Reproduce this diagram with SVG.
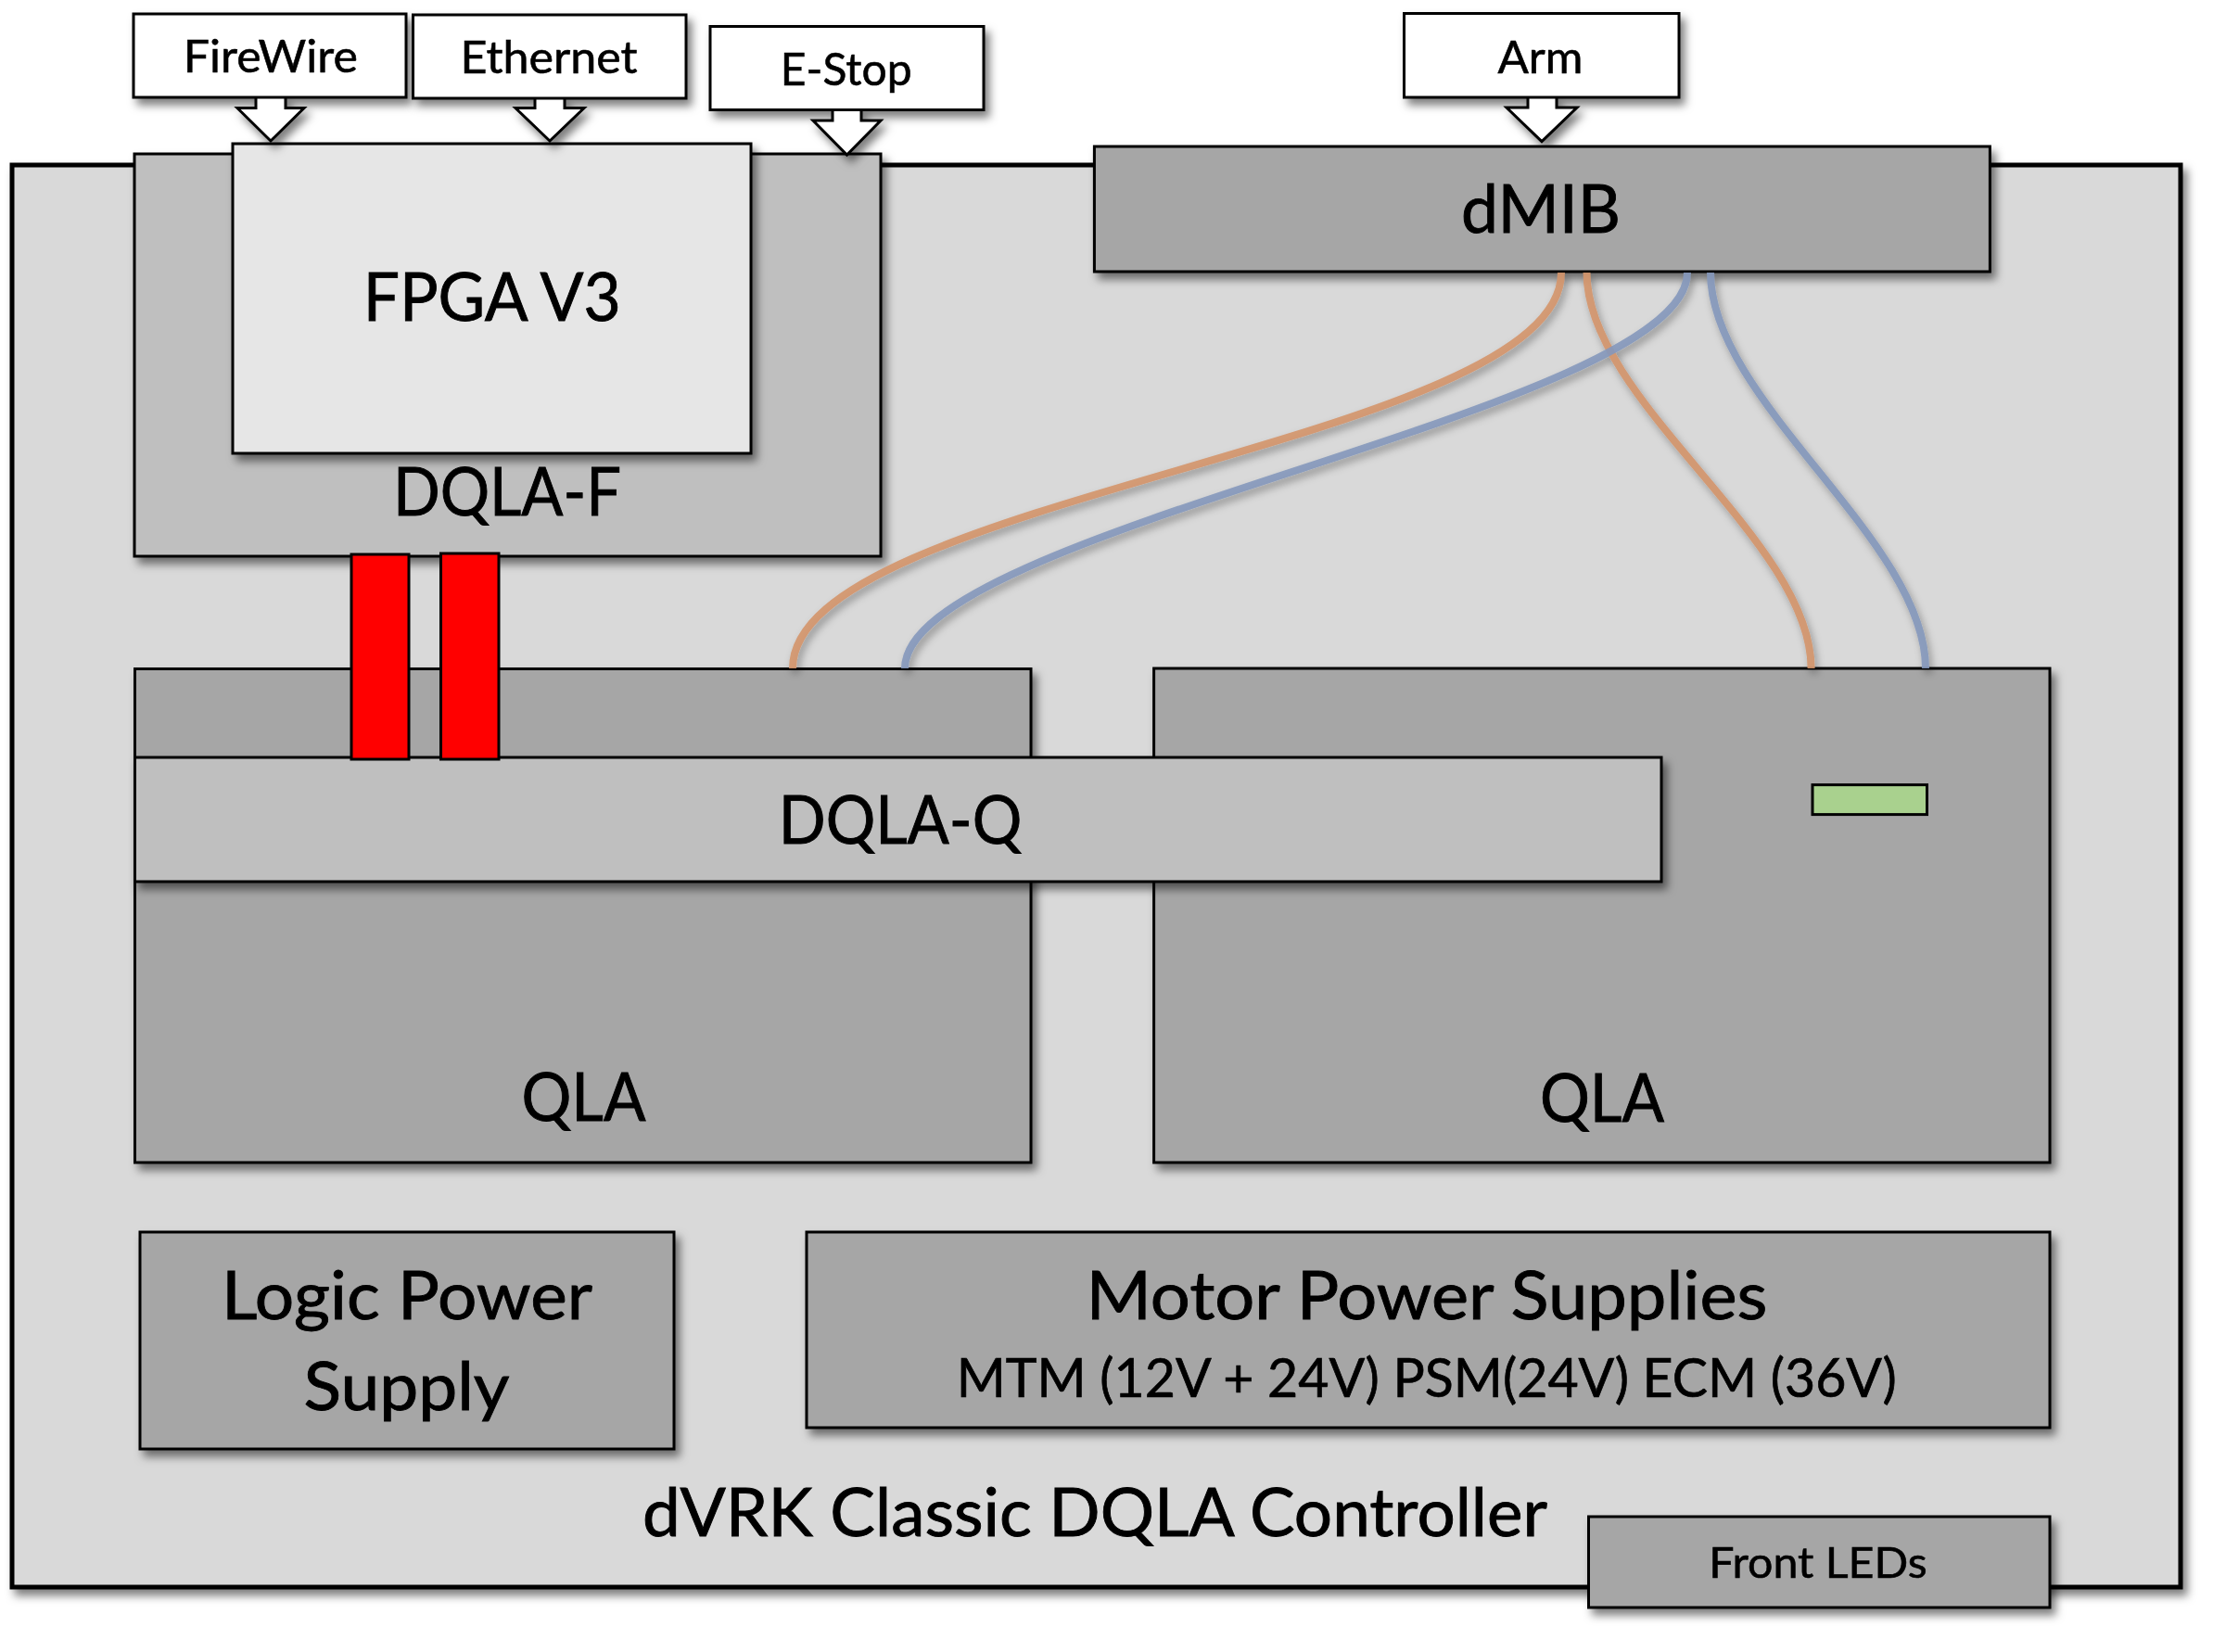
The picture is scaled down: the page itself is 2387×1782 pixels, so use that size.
<svg xmlns="http://www.w3.org/2000/svg" width="2387" height="1782" viewBox="0 0 2387 1782">
<defs>
<filter id="sh" x="-10%" y="-10%" width="125%" height="130%">
<feDropShadow dx="5" dy="7" stdDeviation="5" flood-color="#000" flood-opacity="0.5"/>
</filter>
<filter id="shc" filterUnits="userSpaceOnUse" x="0" y="0" width="2387" height="1782">
<feDropShadow dx="3" dy="5" stdDeviation="4" flood-color="#000" flood-opacity="0.35"/>
</filter>
<style>
.bx{stroke:#000;stroke-width:3}
.lt{fill:#d9d9d9}
.md{fill:#bfbfbf}
.dk{fill:#a6a6a6}
.wh{fill:#fff}
.tx{font-family:Lato,"Open Sans",sans-serif;fill:#000;text-anchor:middle;stroke:#000;stroke-width:0.9}
.big{font-size:72px}
.sm{font-size:48px;stroke-width:0.6}
.cab{fill:none;stroke-width:8;opacity:0.9}
.or{stroke:#d4956c}
.bl{stroke:#8598bb}
</style>
</defs>
<rect width="2387" height="1782" fill="#fff"/>
<g id="controller" filter="url(#sh)">
<rect class="lt" x="13" y="178" width="2339" height="1534" stroke="#000" stroke-width="5"/>
</g>
<text class="tx big" x="1181" y="1656.7" textLength="976" lengthAdjust="spacingAndGlyphs">dVRK Classic DQLA Controller</text>

<g id="dqla-f" filter="url(#sh)">
<rect class="bx md" x="145" y="166" width="805" height="434"/>
</g>
<text class="tx big" x="547" y="555.5" textLength="246" lengthAdjust="spacingAndGlyphs">DQLA-F</text>

<g id="fpga" filter="url(#sh)">
<rect class="bx" fill="#e6e6e6" x="251" y="155" width="559" height="334"/>
<text class="tx big" x="530.7" y="346" textLength="278" lengthAdjust="spacingAndGlyphs">FPGA V3</text>
</g>

<g id="firewire" filter="url(#sh)">
<path class="bx wh" d="M276,104 V116.6 H256 L292,152 L328,116.6 H308 V104"/>
<rect class="bx wh" x="144" y="15" width="294" height="90"/>
<text class="tx sm" x="291.8" y="78.3" textLength="188" lengthAdjust="spacingAndGlyphs">FireWire</text>
</g>
<g id="ethernet" filter="url(#sh)">
<path class="bx wh" d="M577,105 V116.6 H556 L593,152 L630,116.6 H609 V105"/>
<rect class="bx wh" x="445.5" y="16" width="294.5" height="90"/>
<text class="tx sm" x="592" y="79" textLength="191" lengthAdjust="spacingAndGlyphs">Ethernet</text>
</g>
<g id="estop" filter="url(#sh)">
<path class="bx wh" d="M898,118 V130 H877 L913.5,167 L950,130 H929 V118"/>
<rect class="bx wh" x="766" y="28.5" width="295" height="90"/>
<text class="tx sm" x="912.7" y="92.1" textLength="141.7" lengthAdjust="spacingAndGlyphs">E-Stop</text>
</g>
<g id="arm" filter="url(#sh)">
<path class="bx wh" d="M1648,104 V116 H1625 L1663,152.7 L1701,116 H1679 V104"/>
<rect class="bx wh" x="1514.5" y="14.5" width="296.5" height="90.5"/>
<text class="tx sm" x="1661.5" y="78.5" textLength="92" lengthAdjust="spacingAndGlyphs">Arm</text>
</g>

<g id="qla-left" filter="url(#sh)">
<rect class="bx dk" x="145.5" y="721.5" width="966.5" height="532.5"/>
</g>
<text class="tx big" x="629.5" y="1209.4" textLength="134" lengthAdjust="spacingAndGlyphs">QLA</text>
<g id="qla-right" filter="url(#sh)">
<rect class="bx dk" x="1244.6" y="721" width="966.4" height="533"/>
</g>
<text class="tx big" x="1728" y="1210" textLength="134" lengthAdjust="spacingAndGlyphs">QLA</text>

<g id="dmib" filter="url(#sh)">
<rect class="bx dk" x="1180.4" y="158" width="966" height="135"/>
<text class="tx big" x="1662" y="251" textLength="172" lengthAdjust="spacingAndGlyphs">dMIB</text>
</g>

<g id="connectors" filter="url(#shc)">
<path class="cab or" d="M1684,294 C1684,479 855,536 855,721"/>
<path class="cab or" d="M1711.5,294 C1711.5,433 1953.6,582 1953.6,721"/>
<path class="cab bl" d="M1820,294 C1820,444 976,571 976,721"/>
<path class="cab bl" d="M1845,294 C1845,433 2077,582 2077,721"/>
</g>

<g id="dqla-q" filter="url(#sh)">
<rect class="bx md" x="145.5" y="817" width="1646.5" height="134"/>
</g>
<text class="tx big" x="971" y="910.3" textLength="262.5" lengthAdjust="spacingAndGlyphs">DQLA-Q</text>

<g id="cable-1">
<rect class="bx" fill="#ff0000" x="379" y="598" width="62" height="221"/>
</g>
<g id="cable-2">
<rect class="bx" fill="#ff0000" x="475.5" y="597" width="62.5" height="222"/>
</g>

<g id="led">
<rect class="bx" fill="#a9d18e" x="1955" y="846.6" width="123.5" height="32"/>
</g>

<g id="logic-power" filter="url(#sh)">
<rect class="bx dk" x="151" y="1329" width="576" height="234"/>
<text class="tx big" x="439" y="1422.7" textLength="400" lengthAdjust="spacingAndGlyphs">Logic Power</text>
<text class="tx big" x="438.5" y="1520.7" textLength="222" lengthAdjust="spacingAndGlyphs">Supply</text>
</g>

<g id="motor-power" filter="url(#sh)">
<rect class="bx dk" x="870" y="1329" width="1341" height="211"/>
<text class="tx big" x="1539" y="1423.3" textLength="735" lengthAdjust="spacingAndGlyphs">Motor Power Supplies</text>
<text class="tx" style="font-size:58.5px;stroke-width:0.7" x="1538.7" y="1506.7" textLength="1014" lengthAdjust="spacingAndGlyphs">MTM (12V + 24V) PSM(24V) ECM (36V)</text>
</g>

<g id="front-leds" filter="url(#sh)">
<rect class="bx dk" x="1713.5" y="1636" width="497.5" height="98"/>
<text class="tx" style="font-size:46.5px;stroke-width:0.6" x="1961" y="1701.7" textLength="235.6" lengthAdjust="spacingAndGlyphs">Front LEDs</text>
</g>
</svg>
